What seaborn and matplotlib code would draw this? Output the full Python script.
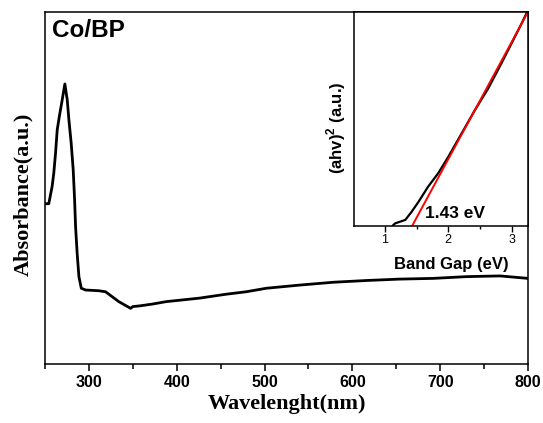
import numpy as np
import pandas as pd
import seaborn as sns
import matplotlib.pyplot as plt
from matplotlib.ticker import MultipleLocator

# ---- main UV-vis spectrum (absorbance in arbitrary units) ----
wavelength = [250, 254.3, 258.1, 260, 262, 263.9, 266.6, 269.6, 272.6, 275.3,
              277.2, 279.8, 282.1, 283.7, 284.8, 286.6, 288.6, 291.3, 296.2,
              311, 319, 334, 347.5, 350, 358, 372, 388, 426, 456, 479, 502,
              540, 578, 616, 654, 692, 730, 768, 800]
absorbance = [0.455, 0.455, 0.504, 0.542, 0.599, 0.665, 0.707, 0.75, 0.795, 0.75,
              0.693, 0.627, 0.551, 0.466, 0.39, 0.314, 0.248, 0.215, 0.210,
              0.208, 0.205, 0.177, 0.158, 0.163, 0.165, 0.170, 0.177, 0.187,
              0.198, 0.205, 0.215, 0.224, 0.232, 0.237, 0.241, 0.243, 0.248,
              0.250, 0.243]

# ---- inset Tauc plot ----
band_gap = [1.12, 1.16, 1.24, 1.32, 1.42, 1.53, 1.68, 1.84, 2.00, 2.21, 2.42,
            2.63, 2.84, 3.00, 3.16, 3.24]
tauc = [0.0, 0.011, 0.019, 0.027, 0.065, 0.112, 0.182, 0.245, 0.322, 0.431,
        0.540, 0.641, 0.759, 0.852, 0.946, 0.995]
fit_x = [1.43, 3.27]
fit_y = [0.0, 1.005]

sns.set_style("ticks")
plt.rcParams['font.family'] = ['Liberation Sans', 'DejaVu Sans']
plt.rcParams.update({
    'axes.linewidth': 1.1,
    'axes.edgecolor': 'black',
    'axes.labelcolor': 'black',
    'text.color': 'black',
    'xtick.color': 'black',
    'mathtext.fontset': 'custom',
    'mathtext.rm': 'Liberation Sans:bold',
    'mathtext.bf': 'Liberation Sans:bold',
})

fig = plt.figure(figsize=(5.43, 4.23), dpi=100)
ax = fig.add_axes([0.0829, 0.1395, 0.8895, 0.8328])

df = pd.DataFrame({'wl': wavelength, 'abs': absorbance})
sns.lineplot(data=df, x='wl', y='abs', ax=ax, color='black', lw=2.0, sort=False)
ax.set_xlim(250, 800)
ax.set_ylim(0, 1)
ax.set_yticks([])
ax.xaxis.set_major_locator(MultipleLocator(100))
ax.xaxis.set_minor_locator(MultipleLocator(50))
ax.tick_params(axis='x', which='major', length=5, width=1.1, labelsize=11.5, pad=3)
ax.tick_params(axis='x', which='minor', length=3.5, width=1.1)
for lab in ax.get_xticklabels():
    lab.set_fontweight('bold')
ax.set_xlabel('Wavelenght(nm)', family='Liberation Serif', fontweight='bold',
              fontsize=16, labelpad=3)
ax.set_ylabel('Absorbance(a.u.)', family='Liberation Serif', fontweight='bold',
              fontsize=16)
ax.yaxis.set_label_coords(-0.025, 0.483)
ax.text(0.0145, 0.978, 'Co/BP', transform=ax.transAxes, ha='left', va='top',
        fontsize=17.5, fontweight='bold')

# inset
axi = fig.add_axes([0.652, 0.4664, 0.3204, 0.5059])
df_in = pd.DataFrame({'e': band_gap, 't': tauc})
sns.lineplot(data=df_in, x='e', y='t', ax=axi, color='black', lw=1.6, sort=False)
axi.plot(fit_x, fit_y, color='red', lw=1.4, solid_capstyle='butt')
axi.set_xlim(0.51, 3.26)
axi.set_ylim(0, 1)
axi.set_yticks([])
axi.xaxis.set_major_locator(MultipleLocator(1))
axi.xaxis.set_minor_locator(MultipleLocator(0.5))
axi.tick_params(axis='x', which='major', length=4, width=1.0, labelsize=9, pad=2)
axi.tick_params(axis='x', which='minor', length=2.5, width=1.0)
axi.set_xlabel('Band Gap (eV)', fontsize=12, fontweight='bold')
axi.xaxis.set_label_coords(0.561, -0.146)
axi.set_ylabel(r'(ahv)$^2$ (a.u.)', fontsize=12, fontweight='bold')
axi.yaxis.set_label_coords(-0.035, 0.457)
axi.text(1.63, 0.055, '1.43 eV', ha='left', va='center', fontsize=12.5,
         fontweight='bold')

fig.savefig('out.png', dpi=100)
